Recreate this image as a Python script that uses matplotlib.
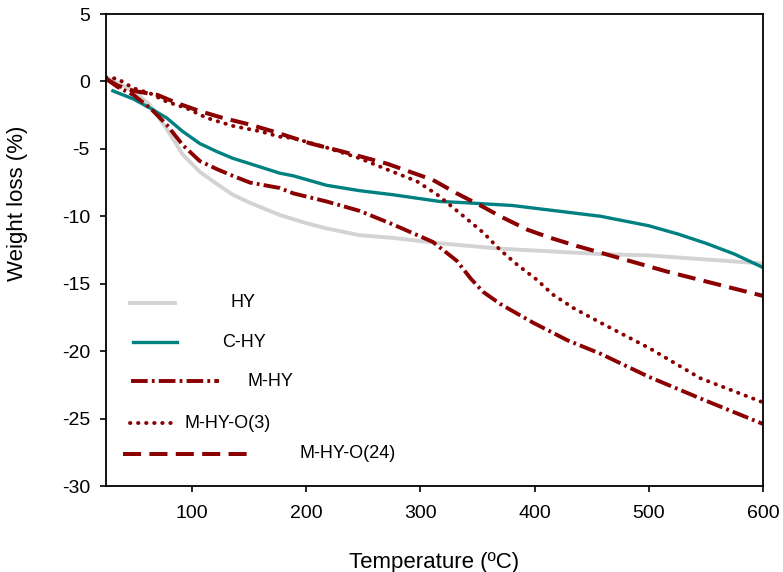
import matplotlib.pyplot as plt

plt.rcParams['font.family'] = ['Liberation Sans', 'DejaVu Sans']
plt.rcParams['lines.scale_dashes'] = False
plt.rcParams['axes.unicode_minus'] = False

# HY
hy_t = [25, 35, 49, 63, 78, 92, 107, 122, 136, 151, 177, 200, 218, 247, 276, 317, 370, 458, 500, 550, 600]
hy_w = [0.3, -0.1, -0.7, -1.7, -3.5, -5.4, -6.7, -7.6, -8.4, -9.0, -9.9, -10.5, -10.9, -11.4, -11.6, -12.0,
        -12.4, -12.8, -12.9, -13.2, -13.5]

# C-HY
chy_t = [31, 49, 64, 78, 92, 107, 122, 136, 151, 177, 189, 218, 247, 276, 317, 341, 381, 400, 458, 500,
         525, 550, 575, 600]
chy_w = [-0.7, -1.3, -2.0, -2.7, -3.7, -4.6, -5.2, -5.7, -6.1, -6.8, -7.0, -7.7, -8.1, -8.4, -8.9, -9.0,
         -9.2, -9.4, -10.0, -10.7, -11.3, -12.0, -12.8, -13.8]

# M-HY
mhy_t = [25, 35, 49, 64, 78, 92, 107, 122, 136, 151, 177, 189, 218, 247, 276, 311, 332, 344, 355, 370,
         399, 429, 458, 500, 545, 600]
mhy_w = [0.2, -0.4, -1.0, -2.0, -3.2, -4.7, -5.9, -6.5, -7.0, -7.5, -7.9, -8.3, -8.9, -9.6, -10.6, -11.9,
         -13.3, -14.6, -15.6, -16.5, -17.9, -19.2, -20.2, -21.9, -23.5, -25.4]

# M-HY-O(3)
mo3_t = [25, 35, 49, 64, 78, 96, 113, 136, 160, 177, 189, 218, 247, 276, 297, 315, 338, 355, 370, 385,
         402, 416, 434, 458, 501, 545, 600]
mo3_w = [0.3, 0.2, -0.5, -0.9, -1.5, -2.0, -2.7, -3.3, -3.7, -4.1, -4.2, -4.9, -5.7, -6.7, -7.4, -8.4,
         -10.0, -11.2, -12.5, -13.6, -14.7, -15.8, -16.8, -17.9, -19.8, -22.0, -23.8]

# M-HY-O(24)
mo24_t = [25, 35, 49, 70, 87, 107, 127, 151, 171, 204, 232, 271, 291, 311, 332, 355, 370, 394, 414, 437,
          458, 516, 600]
mo24_w = [0.2, -0.3, -0.7, -1.0, -1.6, -2.2, -2.7, -3.2, -3.7, -4.6, -5.2, -6.1, -6.7, -7.3, -8.3, -9.3,
          -10.0, -11.0, -11.6, -12.2, -12.7, -14.1, -15.9]

red = '#8b0000'
styles = {
    'HY': dict(color='#d3d3d3', lw=2.8, ls='-'),
    'C-HY': dict(color='#008080', lw=2.4, ls='-'),
    'M-HY': dict(color=red, lw=2.8, dashes=(12, 3, 2, 3)),
    'M-HY-O(3)': dict(color=red, lw=2.8, dashes=(0.3, 5.5), dash_capstyle='round'),
    'M-HY-O(24)': dict(color=red, lw=2.9, dashes=(13, 6)),
}

fig = plt.figure(figsize=(7.83, 5.72), dpi=100)
ax = fig.add_axes([0.1354, 0.1503, 0.8391, 0.8252])

ax.plot(hy_t, hy_w, **styles['HY'])
ax.plot(chy_t, chy_w, **styles['C-HY'])
ax.plot(mhy_t, mhy_w, **styles['M-HY'])
ax.plot(mo3_t, mo3_w, **styles['M-HY-O(3)'])
ax.plot(mo24_t, mo24_w, **styles['M-HY-O(24)'])

# hand-placed legend keys, as in the original
leg = [
    ('HY', 0.0365, 0.105, 0.388, 0.189),
    ('C-HY', 0.041, 0.108, 0.305, 0.177),
    ('M-HY', 0.038, 0.172, 0.222, 0.216),
    ('M-HY-O(3)', 0.036, 0.099, 0.133, 0.119),
    ('M-HY-O(24)', 0.026, 0.221, 0.068, 0.295),
]
for name, x0, x1, y, xt in leg:
    ax.plot([x0, x1], [y, y], transform=ax.transAxes, **styles[name])
    ax.text(xt, y, name, transform=ax.transAxes, fontsize=13, va='center', ha='left')

ax.set_xlim(25, 600)
ax.set_ylim(-30, 5)
ax.set_xticks([100, 200, 300, 400, 500, 600])
ax.set_yticks(range(-30, 6, 5))
ax.tick_params(direction='out', length=4.6, width=1.2, labelsize=14)
ax.tick_params(axis='x', pad=9)
ax.tick_params(axis='y', pad=7)
for s in ax.spines.values():
    s.set_linewidth(1.3)

ax.set_xlabel('Temperature (ºC)', fontsize=16)
ax.set_ylabel('Weight loss (%)', fontsize=16)
ax.xaxis.set_label_coords(0.5, -0.139)
ax.yaxis.set_label_coords(-0.119, 0.60)

plt.savefig('out.png')
plt.close()
